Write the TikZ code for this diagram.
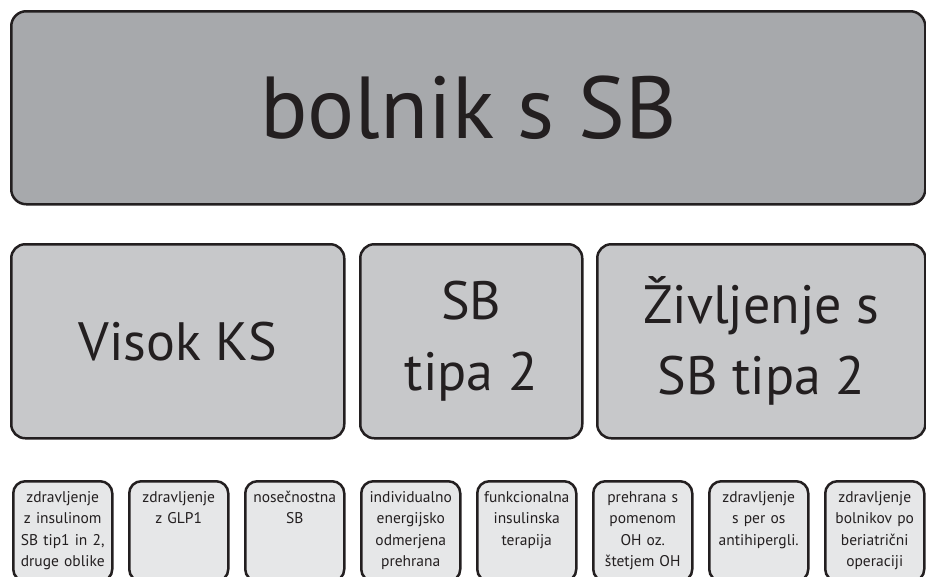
\documentclass[tikz,border=0pt]{standalone}
\usepackage{fontspec}
\setsansfont{PT Sans}
\usetikzlibrary{positioning}
\definecolor{SBInk}{HTML}{231F20}
\definecolor{SBDark}{HTML}{A7A9AC}
\definecolor{SBMid}{HTML}{C7C8CA}
\definecolor{SBLight}{HTML}{E6E7E8}

\begin{document}
\begin{tikzpicture}[x=1pt,y=-1pt,node distance=13.5pt,font=\sffamily,text=SBInk]
\tikzset{patient/.style={draw=SBInk,line width=2.5pt,rounded corners=15pt,fill=SBDark,minimum width=914pt,minimum height=193pt,anchor=north west,font=\sffamily\fontsize{88}{88}\selectfont},
         group/.style={draw=SBInk,line width=2.5pt,rounded corners=14pt,fill=SBMid,minimum height=194pt,anchor=north west,align=center,font=\sffamily\fontsize{54}{71}\selectfont},
         leaf/.style={draw=SBInk,line width=2.5pt,rounded corners=12pt,fill=SBLight,inner xsep=1.5pt,inner ysep=6pt,text width=96pt,text height=15pt,text depth=73pt,align=center,anchor=north west,font=\sffamily\fontsize{15.5}{21.5}\selectfont}}
\useasboundingbox (0,0) rectangle (926,576);
% patient
\node[patient] (bolnik) at (10,10) {\raisebox{-4pt}{bolnik s SB}};
% groups
\node[group,minimum width=333pt] (visok) at (10,243) {Visok KS};
\node[group,minimum width=222pt,right=of visok] (tipdva) {SB\\tipa 2};
\node[group,minimum width=328pt,right=12.5pt of tipdva] (zivljenje) {Življenje s\\SB tipa 2};
% topics
\node[leaf] (insulin) at (12,480) {zdravljenje\\z insulinom\\SB tip1 in 2,\\druge oblike};
\node[leaf,right=14.5pt of insulin] (glp) {zdravljenje\\z GLP1};
\node[leaf,right=14.5pt of glp] (nosecnost) {nosečnostna\\SB};
\node[leaf,right=14.5pt of nosecnost] (energija) {individualno\\energijsko\\odmerjena\\prehrana};
\node[leaf,right=14.5pt of energija] (funkcional) {funkcionalna\\insulinska\\terapija};
\node[leaf,right=14.5pt of funkcional] (prehrana) {prehrana s\\pomenom\\OH oz.\\štetjem OH};
\node[leaf,right=14.5pt of prehrana] (peros) {zdravljenje\\s per os\\antihipergli.};
\node[leaf,right=14.5pt of peros] (bariatrija) {zdravljenje\\bolnikov po\\beriatrični\\operaciji};
\end{tikzpicture}
\end{document}
